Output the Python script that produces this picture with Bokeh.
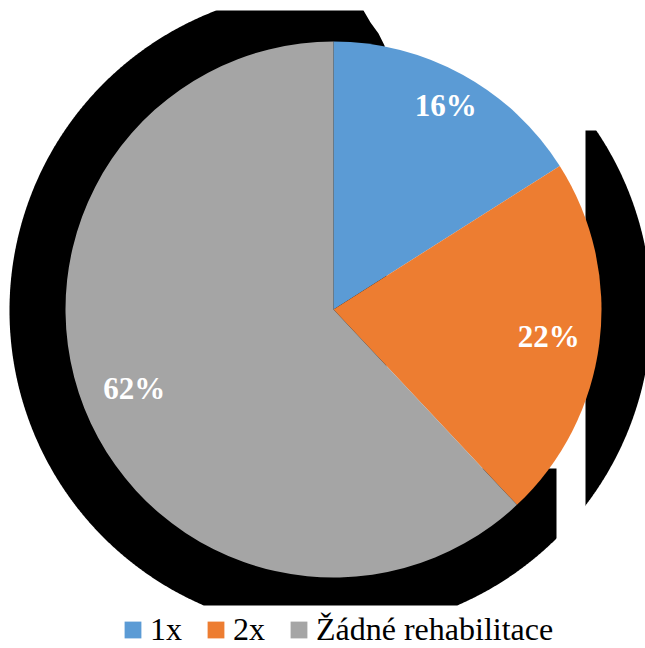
import numpy as np
from bokeh.plotting import figure
from bokeh.models import Range1d, Legend, LegendItem
from bokeh.core.properties import value
from bokeh.embed import file_html
from bokeh.resources import INLINE

# ---- data ----
categories = ["1x", "2x", "Žádné rehabilitace"]
percent = [16, 22, 62]
colors = ["#5B9BD5", "#ED7D31", "#A5A5A5"]

# ---- layout (page pixel coordinates, y measured downward) ----
W, H = 645, 648
CX, CY, R = 333, 309, 268
label_r = [0.87, 0.81, 0.80]

def Y(py):
    return H - np.asarray(py, dtype=float)

p = figure(width=W, height=H, x_range=Range1d(0, W), y_range=Range1d(0, H),
           output_backend="svg", toolbar_location=None, min_border=0,
           outline_line_color=None, background_fill_color="white")
p.axis.visible = False
p.grid.visible = False

# ---- black shadow shape behind the pie ----
th = np.linspace(0, 2 * np.pi, 1441)
sx = 330 + 321 * np.cos(th)
sy = np.clip(310 + 321 * np.sin(th), 10, 605)
p.patch(sx, Y(sy), fill_color="black", line_color=None)
mask_x = [363, 363, 370, 378, 384, 386, 386, 556, 556, 585, 585, 650, 650]
mask_y = [-5, 10, 22, 33, 45, 60, 468, 468, 650, 650, 130, 130, -5]
p.patch(mask_x, Y(mask_y), fill_color="white", line_color=None)

# ---- pie ----
frac = np.array(percent, dtype=float) / sum(percent)
cum = np.concatenate([[0], np.cumsum(frac)]) * 2 * np.pi
start = np.pi / 2 - cum[:-1]
end = np.pi / 2 - cum[1:]
p.wedge(x=CX, y=float(Y(CY)), radius=R, start_angle=start, end_angle=end,
        direction="clock", fill_color=colors, line_color=None)

mid = (start + end) / 2
lx = CX + np.array(label_r) * R * np.cos(mid)
ly = float(Y(CY)) + np.array(label_r) * R * np.sin(mid)
p.text(x=lx, y=ly, text=[f"{v}%" for v in percent],
       text_font=value("Liberation Serif"), text_font_style="bold",
       text_font_size="31px", text_color="white",
       text_align="center", text_baseline="middle")

# ---- legend ----
items = []
for cat, c in zip(categories, colors):
    r = p.quad(left=[np.nan], right=[np.nan], top=[np.nan], bottom=[np.nan],
               fill_color=c, line_color=None)
    items.append(LegendItem(label=cat, renderers=[r]))
legend = Legend(items=items, orientation="horizontal", location=(122, 0),
                glyph_width=21, glyph_height=21, label_standoff=7, spacing=23,
                padding=0, margin=0, border_line_color=None,
                background_fill_alpha=0,
                label_text_font="Liberation Serif", label_text_font_size="32px",
                label_text_color="black", label_height=21)
p.add_layout(legend)

open("out.html", "w").write(file_html(p, INLINE))
